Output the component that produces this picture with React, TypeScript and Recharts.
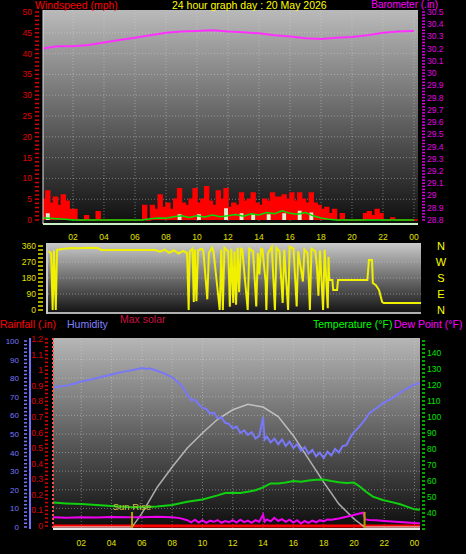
import React from 'react';
import {
  ComposedChart,
  Line,
  Area,
  XAxis,
  YAxis,
  CartesianGrid,
  ReferenceLine,
} from 'recharts';

const LABEL_FONT = "'Liberation Sans', Arial, sans-serif";
const TICK_FONT = "'Liberation Sans Narrow', 'Liberation Sans', Arial, sans-serif";

// ---- top panel: wind (mph, 15 min steps) + barometer (hourly) ----
const windStepHours = 0.25;
const gustMph = [
  5, 7, 4, 5.5, 3.5, 6, 4.5, 2.5, 2.5, 0, 0, 1, 0, 0, 2,
  0, 0, 0, 0, 0, 0, 0, 0, 0, 0, 0,
  3.5, 0, 3.5, 2.5, 6, 3, 4, 2.5, 5, 7.5, 4, 3.5, 5, 7.5, 4, 5, 8, 4.5, 3.5, 7, 5, 7.5,
  3, 4, 3.5, 6.5, 4.5, 5, 6.5, 4, 3.5, 5, 4.5, 6.5, 5.5, 5.5, 6, 5, 6.5, 4.5, 6.5, 5,
  4, 6.5, 4, 3.5, 2.5, 3, 1.5, 2.5, 0, 1.5,
  0, 0, 0, 0, 0,
  1.5, 2, 1, 2.5, 1.5, 0, 0, 0.5,
  0, 0, 0, 0, 0, 0, 0,
];
const speedMph = [
  0, 1.6, 0, 0, 0, 0, 0, 0, 0, 0, 0, 0, 0, 0, 0,
  0, 0, 0, 0, 0, 0, 0, 0, 0, 0, 0,
  0, 0, 0, 0, 0, 0, 0, 0, 0, 1.4, 0, 0, 0, 0, 1.4, 0, 0, 0, 0, 0, 0, 2.8,
  0, 0, 0, 1.6, 0, 0, 1.4, 0, 0, 0, 1.4, 0, 0, 0, 1.6, 0, 0, 0, 2.2, 0,
  0, 1.8, 0, 0, 0, 0, 0, 0, 0, 0,
  0, 0, 0, 0, 0,
  0, 0, 0, 0, 0, 0, 0, 0,
  0, 0, 0, 0, 0, 0, 0,
];
const avgWindMph = [
  0.5, 0.4, 0.3, 0.2, 0, 0, 0, 0, 0, 0, 0, 0, 0, 0,
  0.3, 0.5, 0.4, 0.8, 1.0, 0.6, 1.0, 0.7, 1.2, 0.8, 1.0, 1.3, 0.9, 1.5, 1.2, 1.8,
  1.5, 2.2, 1.6, 1.4, 1.8, 1.0, 0.5, 0.2,
  0, 0, 0, 0, 0, 0, 0, 0, 0, 0, 0,
];
const baroIn = [
  30.2, 30.22, 30.22, 30.23, 30.25, 30.27, 30.29, 30.31, 30.33, 30.34, 30.345, 30.35,
  30.34, 30.335, 30.325, 30.31, 30.3, 30.285, 30.28, 30.29, 30.295, 30.31, 30.33, 30.34, 30.345,
];

// ---- middle panel: wind direction (hour, degrees) ----
const windDir: [number, number][] = [
  [0.05, 330], [0.2, 318], [0.3, 0], [0.38, 335], [0.5, 0], [0.58, 338], [1, 345], [1.5, 349],
  [2, 348], [2.5, 350], [3.2, 349], [3.4, 338], [5, 337], [6.9, 337], [7.2, 328], [7.5, 340],
  [7.8, 322], [8.1, 336], [8.4, 318], [8.7, 332], [8.95, 320], [9.05, 0], [9.12, 330], [9.3, 345],
  [9.38, 45], [9.45, 340], [9.55, 50], [9.65, 335], [9.9, 345], [10.0, 330], [10.25, 60], [10.35, 320],
  [10.55, 350], [10.65, 330], [11.05, 0], [11.15, 340], [11.25, 0], [11.35, 350], [11.6, 330], [11.7, 19],
  [11.8, 345], [11.92, 40], [12.0, 330], [12.1, 30], [12.2, 350], [12.3, 100], [12.4, 345], [12.5, 340],
  [12.85, 0], [12.95, 345], [13.2, 330], [13.4, 20], [13.5, 320], [13.6, 200], [13.7, 345], [13.8, 340],
  [14.0, 160], [14.05, 0], [14.15, 320], [14.4, 355], [14.6, 0], [14.7, 350], [14.9, 330], [15.0, 180],
  [15.1, 40], [15.2, 340], [15.45, 0], [15.55, 355], [15.8, 345], [16.0, 20], [16.1, 330], [16.4, 160],
  [16.5, 340], [16.7, 320], [16.75, 240], [16.85, 0], [16.95, 345], [17.2, 330], [17.3, 250], [17.4, 80],
  [17.5, 335], [17.7, 0], [17.8, 340], [18.0, 10], [18.05, 300], [18.1, 169], [18.3, 169], [18.35, 112],
  [18.6, 112], [18.66, 169], [20.55, 169], [20.65, 281], [20.85, 281], [20.9, 152], [21.1, 140], [21.3, 112],
  [21.5, 45], [21.6, 39], [24, 39],
];

// ---- bottom panel (hour, value) ----
const humidity: [number, number][] = [
  [0.13, 75], [0.5, 75.5], [1, 76], [1.5, 77], [2, 78.2], [2.5, 79], [3, 80], [3.5, 81], [4, 82],
  [4.5, 83], [5, 83.8], [5.5, 84.5], [6, 85.5], [6.3, 85], [6.5, 85.3], [7, 84], [7.5, 82.5], [8, 80.5],
  [8.5, 77], [8.8, 74], [9, 71], [9.3, 68], [9.5, 68.5], [9.75, 66], [10, 64], [10.25, 63.5], [10.5, 61],
  [10.75, 61.5], [11, 58.5], [11.25, 59], [11.5, 56], [11.75, 55.5], [12, 53], [12.25, 54], [12.5, 50.5],
  [12.75, 52], [13, 49.5], [13.25, 51], [13.5, 47.5], [13.75, 49], [14, 59], [14.1, 47], [14.25, 48.5],
  [14.5, 45.5], [14.75, 47.5], [15, 44.5], [15.25, 47], [15.5, 43.5], [15.75, 46], [16, 42.5], [16.25, 44.5],
  [16.5, 41], [16.75, 43], [17, 39.5], [17.25, 41.5], [17.5, 38], [17.75, 40], [18, 37], [18.25, 40.5],
  [18.5, 38.5], [18.75, 42], [19, 40], [19.25, 43.5], [19.5, 44], [19.75, 48], [20, 51], [20.25, 53],
  [20.5, 55.5], [20.75, 58], [21, 61], [21.5, 64], [22, 67], [22.5, 69], [23, 72], [23.5, 74.5],
  [24, 76.5], [24.35, 77.5],
];
const temperature: [number, number][] = [
  [0.13, 46.5], [1, 46], [2, 45.6], [3, 45], [4, 44.4], [5, 43.8], [6, 43.6], [7, 44], [8, 45], [9, 47],
  [10, 48.5], [11, 51], [11.5, 52.5], [12, 52.7], [12.5, 52.5], [13, 53.3], [13.5, 54.2], [14, 56],
  [14.5, 58.5], [15, 58.5], [15.5, 59], [16, 60], [16.5, 59.6], [17, 60.3], [17.5, 60.8], [18, 61],
  [18.5, 60], [19, 59.2], [19.5, 58.7], [20, 59], [20.4, 56.4], [20.8, 53.3], [21.25, 50.2], [21.9, 48.1],
  [22.5, 46.8], [23, 45.6], [23.5, 44], [24, 42.3], [24.35, 42],
];
const dewPoint: [number, number][] = [
  [0.13, 37.3], [1, 37.1], [2, 37.4], [3, 37.2], [4, 37.5], [5, 37.3], [6, 37.4], [7, 37.6], [8, 37.3],
  [8.5, 36.8], [9, 35.5], [9.25, 34.2], [9.5, 35.8], [9.75, 34], [10, 35.5], [10.25, 33.8], [10.5, 35.2],
  [10.75, 34.5], [11, 35.6], [11.25, 33.9], [11.5, 35], [11.75, 34.2], [12, 35.5], [12.25, 34], [12.5, 35.8],
  [12.75, 34.3], [13, 35.2], [13.25, 33.8], [13.5, 35.5], [13.75, 34.6], [14, 39], [14.1, 34.5], [14.25, 36],
  [14.5, 34.8], [14.75, 37], [15, 35], [15.25, 36.2], [15.5, 34.5], [15.75, 35.8], [16, 34], [16.25, 35.5],
  [16.5, 33.5], [16.75, 35], [17, 33.8], [17.25, 35.2], [17.5, 34.2], [17.75, 35.5], [18, 34.8], [18.25, 36],
  [18.5, 35.8], [19, 36.6], [19.5, 37.6], [20, 38.8], [20.3, 39.5], [20.6, 40.2], [20.75, 36], [21, 35.6],
  [21.5, 35.4], [22, 35], [22.5, 34.7], [23, 34.3], [23.5, 34], [24, 33.7], [24.35, 33.6],
];
const maxSolar: [number, number][] = [
  [0.13, 0], [5.35, 0], [6, 100], [7, 290], [8, 440], [9, 580], [10, 690], [11, 790], [12, 860],
  [13, 900], [14, 880], [15, 810], [16, 670], [17, 500], [18, 330], [19, 170], [20, 60], [20.7, 0], [24.36, 0],
];
const rainIn: [number, number][] = [[0.13, 0], [24.36, 0]];
const sunRise = 5.35;
const sunSet = 20.7;

const hourTicks = [2, 4, 6, 8, 10, 12, 14, 16, 18, 20, 22, 24];
const fmtHour = (h: number) => String(h % 24).padStart(2, '0');
const steps = (from: number, to: number, step: number) =>
  Array.from({ length: Math.round((to - from) / step) + 1 }, (_, i) => +(from + i * step).toFixed(3));
const isMultiple = (v: number, m: number) => Math.abs(v / m - Math.round(v / m)) < 1e-6;

const topRows = gustMph.map((g, i) => ({
  h: i * windStepHours,
  gust: g,
  speed: speedMph[i],
  avg: i % 2 === 0 ? avgWindMph[i / 2] : undefined,
  baro: i % 4 === 0 ? baroIn[i / 4] : undefined,
}));
const dirRows = windDir.map(([h, d]) => ({ h, dir: d }));

function mergeSeries(series: Record<string, [number, number][]>) {
  const map = new Map<number, any>();
  Object.entries(series).forEach(([key, pts]) => {
    pts.forEach(([h, v]) => {
      const row = map.get(h) ?? { h };
      row[key] = v;
      map.set(h, row);
    });
  });
  return [...map.values()].sort((a, b) => a.h - b.h);
}
const bottomRows = mergeSeries({
  hum: humidity,
  temp: temperature,
  dew: dewPoint,
  solar: maxSolar,
  rain: rainIn,
});

const hourTick = (dy: number) => (props: any) => (
  <text x={props.x} y={props.y + dy} textAnchor="middle" fill="#e0e000" fontSize={8.5} fontFamily={TICK_FONT}>
    {fmtHour(props.payload.value)}
  </text>
);

// generic dashed-scale tick: small mark each tick, label on multiples
const scaleTick =
  (opts: { color: string; side: 'left' | 'right'; every: number; markFrom: number; markTo: number; textDx: number; fmt?: (v: number) => string; size?: number }) =>
  (props: any) => {
    const { x, y, payload } = props;
    const v = payload.value;
    const dir = opts.side === 'left' ? -1 : 1;
    return (
      <g>
        <line x1={x + dir * opts.markFrom} x2={x + dir * opts.markTo} y1={y} y2={y} stroke={opts.color} strokeWidth={1.5} />
        {isMultiple(v, opts.every) && (
          <text
            x={x + dir * opts.textDx}
            y={y + 3}
            textAnchor={opts.side === 'left' ? 'end' : 'start'}
            fill={opts.color}
            fontSize={opts.size ?? 8.5}
            fontFamily={TICK_FONT}
          >
            {opts.fmt ? opts.fmt(v) : v}
          </text>
        )}
      </g>
    );
  };

const compassTick = (props: any) => {
  const names: Record<number, string> = { 0: 'N', 90: 'E', 180: 'S', 270: 'W', 360: 'N' };
  return (
    <text x={props.x + 18} y={props.y + 4} textAnchor="middle" fill="#ffff00" fontSize={11} fontFamily={LABEL_FONT}>
      {names[props.payload.value]}
    </text>
  );
};

const gridProps = { stroke: '#d8d8d8', strokeOpacity: 0.45, strokeDasharray: '1 2' };
const panelBg = (left: number, top: number, width: number, height: number, from: string, to: string): React.CSSProperties => ({
  position: 'absolute',
  left,
  top,
  width,
  height,
  background: `linear-gradient(${from}, ${to})`,
});

export default function App() {
  return (
    <div style={{ position: 'absolute', left: 0, top: 0, width: 466, height: 554, background: '#000', overflow: 'hidden' }}>
      <div style={panelBg(43, 10, 375, 214, '#bababa', '#0e0e0e')} />
      <div style={{ ...panelBg(46, 243, 375, 71, '#cacaca', '#101010'), boxShadow: 'inset 2px 1px 0 #c8c8c8, inset 0 -2px 0 #b0b0b0' }} />
      <div style={panelBg(53, 338, 367, 191, '#b6b6b6', '#0c0c0c')} />

      {/* top: wind speed + barometer */}
      <ComposedChart width={466} height={244} data={topRows} margin={{ top: 10, right: 0, bottom: 0, left: 0 }} style={{ position: 'absolute', left: 0, top: 0 }}>
        <CartesianGrid yAxisId="wind" {...gridProps} horizontalValues={steps(5, 45, 5)} verticalValues={hourTicks} />
        <XAxis dataKey="h" type="number" domain={[0.0645, 24.26]} allowDataOverflow ticks={hourTicks} interval={0} height={20}
          tickLine={false} tickSize={0} axisLine={{ stroke: '#c8f0c0', strokeWidth: 2 }} tick={hourTick(13.5)} />
        <YAxis yAxisId="wind" orientation="left" width={43} type="number" domain={[-0.96, 50.48]} allowDataOverflow
          ticks={steps(0, 50, 1)} interval={0} tickLine={false} tickSize={0} axisLine={{ stroke: '#e0e0e0' }}
          tick={scaleTick({ color: '#e00000', side: 'left', every: 5, markFrom: 2, markTo: 6, textDx: 9 })} />
        <YAxis yAxisId="baro" orientation="right" width={48} type="number" domain={[28.767, 30.516]} allowDataOverflow
          ticks={steps(28.8, 30.5, 0.025)} interval={0} tickLine={false} tickSize={0} axisLine={false}
          tick={scaleTick({ color: '#e000e0', side: 'right', every: 0.1, markFrom: 2, markTo: 5, textDx: 7, fmt: (v) => String(Number(v.toFixed(1))) })} />
        <Area yAxisId="wind" type="stepAfter" dataKey="gust" fill="#ff0000" fillOpacity={1} stroke="#ff0000" strokeWidth={1.5} isAnimationActive={false} />
        <Area yAxisId="wind" type="stepAfter" dataKey="speed" fill="#d8f0d0" fillOpacity={1} stroke="none" isAnimationActive={false} />
        <Line yAxisId="wind" dataKey="avg" stroke="#00e000" strokeWidth={1.5} dot={false} connectNulls isAnimationActive={false} />
        <Line yAxisId="baro" dataKey="baro" stroke="#ff30ff" strokeWidth={2} dot={false} connectNulls isAnimationActive={false} />
      </ComposedChart>

      {/* middle: wind direction */}
      <ComposedChart width={466} height={330} data={dirRows} margin={{ top: 244, right: 0, bottom: 17, left: 0 }} style={{ position: 'absolute', left: 0, top: 0 }}>
        <CartesianGrid yAxisId="dir" {...gridProps} horizontalValues={[90, 180, 270]} vertical={false} />
        <XAxis dataKey="h" type="number" domain={[0, 24]} allowDataOverflow hide />
        <YAxis yAxisId="dir" orientation="left" width={48} type="number" domain={[-16.9, 371.25]} allowDataOverflow
          ticks={steps(0, 360, 22.5)} interval={0} tickLine={false} tickSize={0} axisLine={false}
          tick={scaleTick({ color: '#e0e000', side: 'left', every: 90, markFrom: 3, markTo: 8, textDx: 10 })} />
        <YAxis yAxisId="compass" orientation="right" width={45} type="number" domain={[-16.9, 371.25]} allowDataOverflow
          ticks={[0, 90, 180, 270, 360]} interval={0} tickLine={false} tickSize={0} axisLine={false} tick={compassTick} />
        <Line yAxisId="dir" dataKey="dir" stroke="#f0f000" strokeWidth={2} dot={false} isAnimationActive={false} />
      </ComposedChart>

      {/* bottom: rain, humidity, temperature, dew point, max solar */}
      <ComposedChart width={466} height={554} data={bottomRows} margin={{ top: 338, right: 0, bottom: 0, left: 0 }} style={{ position: 'absolute', left: 0, top: 0 }}>
        <CartesianGrid yAxisId="hum" {...gridProps} horizontalValues={steps(10, 90, 10)} verticalValues={hourTicks} />
        <XAxis dataKey="h" type="number" domain={[0.132, 24.36]} allowDataOverflow ticks={hourTicks} interval={0} height={25}
          tickLine={false} tickSize={0} axisLine={{ stroke: '#e8e8e8', strokeWidth: 2 }} tick={hourTick(14.5)} />
        <YAxis yAxisId="aRain" orientation="left" width={23} type="number" domain={[-0.0193, 1.2066]} allowDataOverflow
          ticks={steps(0, 1.2, 0.025)} interval={0} tickLine={false} tickSize={0}
          axisLine={{ stroke: '#ff5050', strokeWidth: 2, strokeDasharray: '2 2' }}
          tick={scaleTick({ color: '#e00000', side: 'left', every: 0.1, markFrom: 3, markTo: 6, textDx: 8, fmt: (v) => String(Number(v.toFixed(1))) })} />
        <YAxis yAxisId="hum" orientation="left" width={30} type="number" domain={[-1.075, 101.61]} allowDataOverflow
          ticks={steps(0, 100, 2)} interval={0} tickLine={false} tickSize={0} axisLine={{ stroke: '#7070ff', strokeWidth: 2 }}
          tick={scaleTick({ color: '#7878ff', side: 'left', every: 10, markFrom: 1, markTo: 4, textDx: 9, size: 8 })} />
        <YAxis yAxisId="temp" orientation="right" width={46} type="number" domain={[30, 149.375]} allowDataOverflow
          ticks={steps(30, 147.5, 2.5)} interval={0} tickLine={false} tickSize={0} axisLine={false}
          tick={scaleTick({ color: '#00e000', side: 'right', every: 10, markFrom: 0, markTo: 3, textDx: 5, fmt: (v) => (v >= 40 ? String(v) : '') })} />
        <YAxis yAxisId="solar" hide type="number" domain={[-14, 1386]} allowDataOverflow />
        <Line yAxisId="aRain" dataKey="rain" stroke="#ff0000" strokeWidth={3} dot={false} connectNulls isAnimationActive={false} />
        <Line yAxisId="solar" dataKey="solar" stroke="#e0e0e0" strokeOpacity={0.7} strokeWidth={1.5} dot={false} connectNulls isAnimationActive={false} />
        <Line yAxisId="temp" dataKey="temp" stroke="#10d010" strokeWidth={2} dot={false} connectNulls isAnimationActive={false} />
        <Line yAxisId="temp" dataKey="dew" stroke="#f000f0" strokeWidth={2} dot={false} connectNulls isAnimationActive={false} />
        <Line yAxisId="hum" dataKey="hum" stroke="#7878f8" strokeWidth={2} dot={false} connectNulls isAnimationActive={false} />
        <ReferenceLine yAxisId="aRain" ifOverflow="visible" stroke="#b0a000" strokeWidth={2}
          segment={[{ x: sunRise, y: -0.02 }, { x: sunRise, y: 0.09 }]}
          label={{ value: 'Sun Rise', position: 'top', offset: 2, fill: '#c8c040', fontSize: 9.5, fontFamily: LABEL_FONT }} />
        <ReferenceLine yAxisId="aRain" ifOverflow="visible" stroke="#b0a000" strokeWidth={2}
          segment={[{ x: sunSet, y: -0.02 }, { x: sunSet, y: 0.09 }]} />
      </ComposedChart>

      {/* titles */}
      <svg width={466} height={554} style={{ position: 'absolute', left: 0, top: 0, pointerEvents: 'none' }} fontFamily={LABEL_FONT} fontSize={10.5}>
        <text x={35} y={8.5} fill="#ff0000">Windspeed (mph)</text>
        <text x={172} y={8.5} fill="#ffff00">24 hour graph day : 20 May 2026</text>
        <text x={438} y={8} fill="#ff00ff" textAnchor="end" fontSize={10}>Barometer (.in)</text>
        <text x={0} y={328} fill="#ff0000">Rainfall (.in)</text>
        <text x={67} y={328} fill="#8080ff">Humidity</text>
        <text x={120} y={323} fill="#c81040">Max solar</text>
        <text x={313} y={328} fill="#00ff00">Temperature (°F)</text>
        <text x={394} y={328} fill="#ff00ff">Dew Point (°F)</text>
      </svg>
    </div>
  );
}
